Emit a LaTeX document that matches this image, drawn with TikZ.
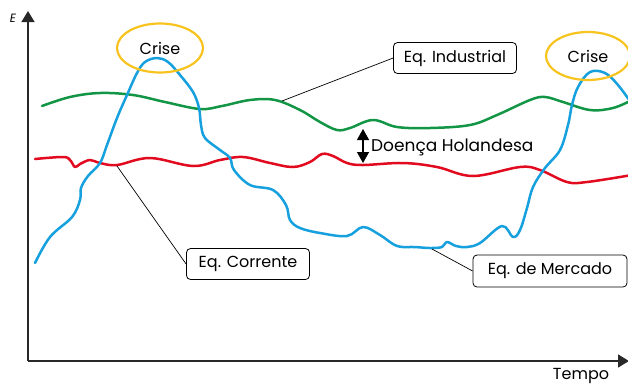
\documentclass[tikz,border=0pt]{standalone}
\usepackage{fontspec}
\setmainfont{Poppins}
\usetikzlibrary{arrows.meta,shapes.geometric}
\definecolor{cblue}{RGB}{22,160,222}
\definecolor{cgreen}{RGB}{18,150,70}
\definecolor{cred}{RGB}{226,10,30}
\definecolor{cyel}{RGB}{247,195,30}
\definecolor{caxis}{RGB}{40,40,40}
\begin{document}
\begin{tikzpicture}[x=1pt,y=-1pt,
  curve/.style={line width=2.5pt, line cap=round, line join=round},
  crise/.style={draw=cyel, line width=2.2pt, ellipse, inner sep=0pt, minimum width=86pt, minimum height=49pt, font=\fontsize{16}{18}\selectfont},
  label/.style={draw, line width=0.8pt, rounded corners=4pt, inner sep=0pt, minimum height=31pt, font=\fontsize{16}{18}\selectfont},
  leader/.style={line width=0.7pt},
  axis/.style={line width=1.3pt, draw=caxis, -{Triangle[width=13pt,length=11pt]}},
  txt/.style={inner sep=0pt, font=\fontsize{16}{18}\selectfont}]
\useasboundingbox (0,0) rectangle (628,384);
% axes
\coordinate (O) at (28,361);
\coordinate (Ytip) at (28,11);
\coordinate (Xtip) at (629,361);
\draw[axis] (O) -- (Ytip);
\draw[axis] (O) -- (Xtip);
\node[inner sep=0pt, font=\fontsize{12}{13}\selectfont\itshape] (E) at (13,18) {E};
\node[txt] (tempo) at (581,376) {Tempo};
% green
\draw[curve, cgreen] plot[smooth, tension=0.6] coordinates {(42,106) (70,97) (100,93) (133,95) (165,102) (200,109) (222,106) (250,100) (275,100) (300,110) (320,122) (337,130) (350,128) (373,120) (397,127) (430,128) (470,125) (497,115) (530,100) (545,97) (563,102) (590,110) (613,108) (632,100)};
% red
\draw[curve, cred] plot[smooth, tension=0.6] coordinates {(35,159) (63,157) (70,160) (75,167) (80,164) (90,160) (100,163) (117,165) (150,158) (193,166) (220,160) (243,157) (270,163) (293,167) (310,162) (322,154) (333,156) (347,163) (363,165) (403,163) (437,167) (473,176) (520,167) (540,170) (567,182) (587,182) (632,175)};
% blue
\draw[curve, cblue] plot[smooth, tension=0.6] coordinates {(35,263) (50,237) (72,217) (80,200) (81,188) (88,176) (100,163) (107,145) (117,118) (127,95) (137,73) (145,62) (157,58) (168,62) (180,75) (193,92) (199,108) (201,125) (205,138) (220,150) (230,158) (234,170) (250,185) (273,190) (286,205) (290,220) (300,228) (320,233) (347,236) (363,227) (380,235) (397,246) (415,247) (430,248) (442,247) (447,242) (456,246) (467,247) (480,243) (502,226) (513,237) (520,230) (527,208) (533,187) (545,168) (560,150) (568,125) (572,105) (578,87) (590,72) (605,73) (618,85) (632,104)};
% crises
\node[crise] (c1) at (160,48) {Crise};
\node[crise, minimum width=84pt, minimum height=48pt] (c2) at (588,56) {Crise};
% labels
\coordinate (gI) at (282,101);
\coordinate (rC) at (117,166);
\coordinate (bM) at (432,249);
\node[label, minimum width=123pt] (ind) at (455,58) {Eq. Industrial};
\node[label, minimum width=123pt] (cor) at (248,264) {Eq. Corrente};
\node[label, minimum width=154pt, minimum height=32pt] (mer) at (550,271) {Eq. de Mercado};
\draw[leader] (ind.west) -- (gI);
\draw[leader] (cor.west) -- (rC);
\draw[leader] (mer.west) -- (bM);
% doenca holandesa
\coordinate (dT) at (363,129);
\coordinate (dB) at (363,163);
\draw[line width=1.3pt, {Triangle[width=12pt,length=11pt]}-{Triangle[width=12pt,length=11pt]}] (dT) -- (dB);
\node[txt, anchor=west, font=\fontsize{17}{19}\selectfont] (dh) at (371,147) {Doença Holandesa};
\end{tikzpicture}
\end{document}
